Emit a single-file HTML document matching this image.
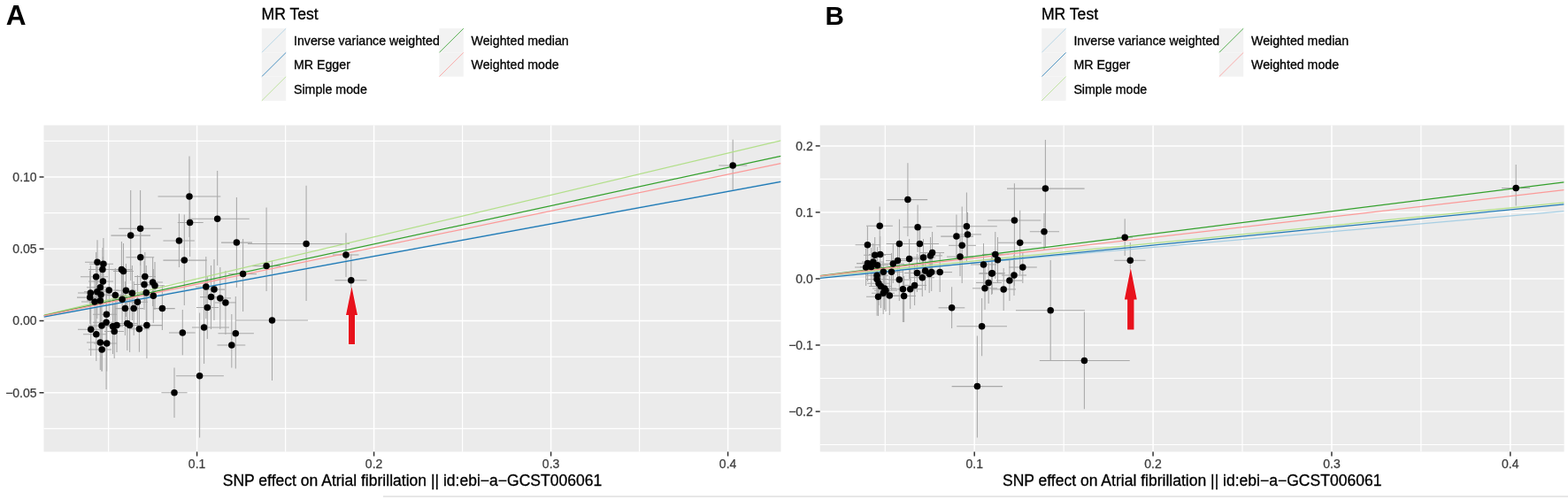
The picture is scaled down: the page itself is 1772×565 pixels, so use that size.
<!DOCTYPE html>
<html><head><meta charset="utf-8"><title>MR scatter plots</title>
<style>html,body{margin:0;padding:0;background:#fff;width:1772px;height:565px;overflow:hidden}svg{display:block}</style></head><body>
<svg width="1772" height="565" viewBox="0 0 1772 565" font-family="'Liberation Sans', Arial, sans-serif">
<defs>
<clipPath id="ca"><rect x="49.5" y="141.5" width="833.0" height="369.0"/></clipPath>
<clipPath id="cb"><rect x="926.7" y="141.5" width="840.9" height="369.0"/></clipPath>
</defs>
<rect width="1772" height="565" fill="#fff"/>
<text x="6.8" y="28.0" font-size="31.5" font-weight="bold" fill="#000">A</text>
<text x="932.6" y="27.6" font-size="29.6" font-weight="bold" fill="#000">B</text>
<text x="295.5" y="21.8" font-size="17.6" fill="#000" stroke="#000" stroke-width="0.3">MR Test</text>
<rect x="295.8" y="32.2" width="27.4" height="27.2" fill="#F2F2F2"/>
<line x1="295.8" y1="59.4" x2="323.2" y2="32.2" stroke="#a6cee3" stroke-width="1.0" stroke-opacity="0.8"/>
<text x="332.0" y="51.1" font-size="14.2" fill="#000" stroke="#000" stroke-width="0.3">Inverse variance weighted</text>
<rect x="295.8" y="59.4" width="27.4" height="27.2" fill="#F2F2F2"/>
<line x1="295.8" y1="86.6" x2="323.2" y2="59.4" stroke="#1f78b4" stroke-width="1.0" stroke-opacity="0.8"/>
<text x="332.0" y="78.3" font-size="14.2" fill="#000" stroke="#000" stroke-width="0.3">MR Egger</text>
<rect x="295.8" y="86.6" width="27.4" height="27.2" fill="#F2F2F2"/>
<line x1="295.8" y1="113.8" x2="323.2" y2="86.6" stroke="#b2df8a" stroke-width="1.0" stroke-opacity="0.8"/>
<text x="332.0" y="105.5" font-size="14.2" fill="#000" stroke="#000" stroke-width="0.3">Simple mode</text>
<rect x="496.4" y="32.2" width="27.4" height="27.2" fill="#F2F2F2"/>
<line x1="496.4" y1="59.4" x2="523.8" y2="32.2" stroke="#33a02c" stroke-width="1.0" stroke-opacity="0.8"/>
<text x="532.6" y="51.1" font-size="14.2" fill="#000" stroke="#000" stroke-width="0.3">Weighted median</text>
<rect x="496.4" y="59.4" width="27.4" height="27.2" fill="#F2F2F2"/>
<line x1="496.4" y1="86.6" x2="523.8" y2="59.4" stroke="#fb9a99" stroke-width="1.0" stroke-opacity="0.8"/>
<text x="532.6" y="78.3" font-size="14.2" fill="#000" stroke="#000" stroke-width="0.3">Weighted mode</text>
<text x="1176.9" y="21.8" font-size="17.6" fill="#000" stroke="#000" stroke-width="0.3">MR Test</text>
<rect x="1177.2" y="32.2" width="27.4" height="27.2" fill="#F2F2F2"/>
<line x1="1177.2" y1="59.4" x2="1204.6" y2="32.2" stroke="#a6cee3" stroke-width="1.0" stroke-opacity="0.8"/>
<text x="1213.4" y="51.1" font-size="14.2" fill="#000" stroke="#000" stroke-width="0.3">Inverse variance weighted</text>
<rect x="1177.2" y="59.4" width="27.4" height="27.2" fill="#F2F2F2"/>
<line x1="1177.2" y1="86.6" x2="1204.6" y2="59.4" stroke="#1f78b4" stroke-width="1.0" stroke-opacity="0.8"/>
<text x="1213.4" y="78.3" font-size="14.2" fill="#000" stroke="#000" stroke-width="0.3">MR Egger</text>
<rect x="1177.2" y="86.6" width="27.4" height="27.2" fill="#F2F2F2"/>
<line x1="1177.2" y1="113.8" x2="1204.6" y2="86.6" stroke="#b2df8a" stroke-width="1.0" stroke-opacity="0.8"/>
<text x="1213.4" y="105.5" font-size="14.2" fill="#000" stroke="#000" stroke-width="0.3">Simple mode</text>
<rect x="1377.8" y="32.2" width="27.4" height="27.2" fill="#F2F2F2"/>
<line x1="1377.8" y1="59.4" x2="1405.2" y2="32.2" stroke="#33a02c" stroke-width="1.0" stroke-opacity="0.8"/>
<text x="1414.0" y="51.1" font-size="14.2" fill="#000" stroke="#000" stroke-width="0.3">Weighted median</text>
<rect x="1377.8" y="59.4" width="27.4" height="27.2" fill="#F2F2F2"/>
<line x1="1377.8" y1="86.6" x2="1405.2" y2="59.4" stroke="#fb9a99" stroke-width="1.0" stroke-opacity="0.8"/>
<text x="1414.0" y="78.3" font-size="14.2" fill="#000" stroke="#000" stroke-width="0.3">Weighted mode</text>
<rect x="49.5" y="141.5" width="833.0" height="369.0" fill="#EBEBEB"/>
<line x1="49.5" x2="882.5" y1="159.38" y2="159.38" stroke="#fff" stroke-width="1.2"/>
<line x1="49.5" x2="882.5" y1="240.62" y2="240.62" stroke="#fff" stroke-width="1.2"/>
<line x1="49.5" x2="882.5" y1="321.88" y2="321.88" stroke="#fff" stroke-width="1.2"/>
<line x1="49.5" x2="882.5" y1="403.12" y2="403.12" stroke="#fff" stroke-width="1.2"/>
<line x1="49.5" x2="882.5" y1="484.38" y2="484.38" stroke="#fff" stroke-width="1.2"/>
<line x1="122.60" x2="122.60" y1="141.5" y2="510.5" stroke="#fff" stroke-width="1.2"/>
<line x1="322.60" x2="322.60" y1="141.5" y2="510.5" stroke="#fff" stroke-width="1.2"/>
<line x1="522.60" x2="522.60" y1="141.5" y2="510.5" stroke="#fff" stroke-width="1.2"/>
<line x1="722.60" x2="722.60" y1="141.5" y2="510.5" stroke="#fff" stroke-width="1.2"/>
<line x1="49.5" x2="882.5" y1="200.00" y2="200.00" stroke="#fff" stroke-width="1.5"/>
<line x1="49.5" x2="882.5" y1="281.25" y2="281.25" stroke="#fff" stroke-width="1.5"/>
<line x1="49.5" x2="882.5" y1="362.50" y2="362.50" stroke="#fff" stroke-width="1.5"/>
<line x1="49.5" x2="882.5" y1="443.75" y2="443.75" stroke="#fff" stroke-width="1.5"/>
<line x1="222.60" x2="222.60" y1="141.5" y2="510.5" stroke="#fff" stroke-width="1.5"/>
<line x1="422.60" x2="422.60" y1="141.5" y2="510.5" stroke="#fff" stroke-width="1.5"/>
<line x1="622.60" x2="622.60" y1="141.5" y2="510.5" stroke="#fff" stroke-width="1.5"/>
<line x1="822.60" x2="822.60" y1="141.5" y2="510.5" stroke="#fff" stroke-width="1.5"/>
<g clip-path="url(#ca)">
<g stroke="#A8A8A8" stroke-width="1.05">
<line x1="214.0" x2="214.0" y1="176.5" y2="268.0"/>
<line x1="214.6" x2="214.6" y1="215.0" y2="290.0"/>
<line x1="202.4" x2="202.4" y1="241.4" y2="302.0"/>
<line x1="208.3" x2="208.3" y1="242.5" y2="345.0"/>
<line x1="158.6" x2="158.6" y1="214.9" y2="300.0"/>
<line x1="147.7" x2="147.7" y1="214.9" y2="317.0"/>
<line x1="158.8" x2="158.8" y1="260.0" y2="322.0"/>
<line x1="110.0" x2="110.0" y1="271.2" y2="321.0"/>
<line x1="116.9" x2="116.9" y1="269.0" y2="327.0"/>
<line x1="115.9" x2="115.9" y1="280.0" y2="330.0"/>
<line x1="137.4" x2="137.4" y1="273.0" y2="340.0"/>
<line x1="139.5" x2="139.5" y1="275.0" y2="342.0"/>
<line x1="108.6" x2="108.6" y1="285.0" y2="340.0"/>
<line x1="116.4" x2="116.4" y1="290.0" y2="345.0"/>
<line x1="163.8" x2="163.8" y1="285.0" y2="340.0"/>
<line x1="172.6" x2="172.6" y1="291.0" y2="346.0"/>
<line x1="163.0" x2="163.0" y1="295.0" y2="350.0"/>
<line x1="175.0" x2="175.0" y1="296.0" y2="350.0"/>
<line x1="113.3" x2="113.3" y1="295.0" y2="355.0"/>
<line x1="123.2" x2="123.2" y1="298.0" y2="358.0"/>
<line x1="102.3" x2="102.3" y1="300.0" y2="362.0"/>
<line x1="109.8" x2="109.8" y1="300.0" y2="360.0"/>
<line x1="114.0" x2="114.0" y1="303.0" y2="363.0"/>
<line x1="101.7" x2="101.7" y1="306.0" y2="366.0"/>
<line x1="130.3" x2="130.3" y1="303.0" y2="364.0"/>
<line x1="142.4" x2="142.4" y1="298.0" y2="358.0"/>
<line x1="149.4" x2="149.4" y1="300.0" y2="362.0"/>
<line x1="165.3" x2="165.3" y1="300.0" y2="362.0"/>
<line x1="173.3" x2="173.3" y1="304.0" y2="365.0"/>
<line x1="138.1" x2="138.1" y1="308.0" y2="368.0"/>
<line x1="113.3" x2="113.3" y1="310.0" y2="370.0"/>
<line x1="107.0" x2="107.0" y1="311.0" y2="371.0"/>
<line x1="155.4" x2="155.4" y1="311.0" y2="371.0"/>
<line x1="141.4" x2="141.4" y1="318.0" y2="379.0"/>
<line x1="151.2" x2="151.2" y1="318.0" y2="379.0"/>
<line x1="183.4" x2="183.4" y1="322.0" y2="373.0"/>
<line x1="120.4" x2="120.4" y1="325.0" y2="385.0"/>
<line x1="120.1" x2="120.1" y1="330.0" y2="440.0"/>
<line x1="115.0" x2="115.0" y1="335.0" y2="419.5"/>
<line x1="127.5" x2="127.5" y1="338.0" y2="400.0"/>
<line x1="132.0" x2="132.0" y1="337.0" y2="398.0"/>
<line x1="129.2" x2="129.2" y1="344.0" y2="405.0"/>
<line x1="102.7" x2="102.7" y1="342.0" y2="402.0"/>
<line x1="108.8" x2="108.8" y1="347.0" y2="408.0"/>
<line x1="113.3" x2="113.3" y1="356.0" y2="418.0"/>
<line x1="120.7" x2="120.7" y1="357.0" y2="419.5"/>
<line x1="115.2" x2="115.2" y1="365.0" y2="419.5"/>
<line x1="143.8" x2="143.8" y1="335.0" y2="396.0"/>
<line x1="146.6" x2="146.6" y1="337.0" y2="398.0"/>
<line x1="157.4" x2="157.4" y1="345.0" y2="397.8"/>
<line x1="165.9" x2="165.9" y1="330.0" y2="404.9"/>
<line x1="267.4" x2="267.4" y1="223.0" y2="325.0"/>
<line x1="274.6" x2="274.6" y1="270.0" y2="352.0"/>
<line x1="301.1" x2="301.1" y1="234.5" y2="329.0"/>
<line x1="232.8" x2="232.8" y1="290.0" y2="360.0"/>
<line x1="242.0" x2="242.0" y1="293.0" y2="362.0"/>
<line x1="238.5" x2="238.5" y1="300.0" y2="372.0"/>
<line x1="248.8" x2="248.8" y1="302.0" y2="372.0"/>
<line x1="254.9" x2="254.9" y1="306.0" y2="378.0"/>
<line x1="234.3" x2="234.3" y1="312.0" y2="383.0"/>
<line x1="230.6" x2="230.6" y1="325.0" y2="411.0"/>
<line x1="206.3" x2="206.3" y1="350.0" y2="401.3"/>
<line x1="266.3" x2="266.3" y1="335.0" y2="416.5"/>
<line x1="261.8" x2="261.8" y1="355.0" y2="415.6"/>
<line x1="307.5" x2="307.5" y1="294.4" y2="430.0"/>
<line x1="245.7" x2="245.7" y1="193.1" y2="300.0"/>
<line x1="346.1" x2="346.1" y1="209.7" y2="340.0"/>
<line x1="391.0" x2="391.0" y1="263.3" y2="313.0"/>
<line x1="396.8" x2="396.8" y1="287.5" y2="346.0"/>
<line x1="225.6" x2="225.6" y1="353.6" y2="494.5"/>
<line x1="197.0" x2="197.0" y1="415.6" y2="472.0"/>
<line x1="828.2" x2="828.2" y1="157.8" y2="214.9"/>
<line x1="178.5" x2="249.3" y1="222.0" y2="222.0"/>
<line x1="200.8" x2="229.7" y1="251.5" y2="251.5"/>
<line x1="184.4" x2="219.9" y1="272.0" y2="272.0"/>
<line x1="184.4" x2="233.7" y1="294.1" y2="294.1"/>
<line x1="134.3" x2="182.7" y1="258.2" y2="258.2"/>
<line x1="125.4" x2="170.0" y1="266.1" y2="266.1"/>
<line x1="142.4" x2="174.2" y1="290.8" y2="290.8"/>
<line x1="96.0" x2="120.0" y1="296.2" y2="296.2"/>
<line x1="101.0" x2="128.0" y1="298.2" y2="298.2"/>
<line x1="100.0" x2="128.0" y1="304.4" y2="304.4"/>
<line x1="126.0" x2="149.0" y1="304.6" y2="304.6"/>
<line x1="128.0" x2="151.0" y1="306.5" y2="306.5"/>
<line x1="91.0" x2="122.0" y1="312.7" y2="312.7"/>
<line x1="100.0" x2="128.0" y1="318.0" y2="318.0"/>
<line x1="152.0" x2="176.0" y1="312.5" y2="312.5"/>
<line x1="161.0" x2="184.0" y1="319.0" y2="319.0"/>
<line x1="151.0" x2="175.0" y1="321.5" y2="321.5"/>
<line x1="164.0" x2="186.0" y1="322.7" y2="322.7"/>
<line x1="98.0" x2="125.0" y1="324.8" y2="324.8"/>
<line x1="108.0" x2="134.0" y1="327.9" y2="327.9"/>
<line x1="88.0" x2="113.0" y1="330.9" y2="330.9"/>
<line x1="95.0" x2="121.0" y1="329.7" y2="329.7"/>
<line x1="99.0" x2="125.0" y1="332.9" y2="332.9"/>
<line x1="87.0" x2="112.0" y1="336.1" y2="336.1"/>
<line x1="119.0" x2="141.0" y1="333.6" y2="333.6"/>
<line x1="131.0" x2="154.0" y1="328.3" y2="328.3"/>
<line x1="138.0" x2="161.0" y1="331.2" y2="331.2"/>
<line x1="154.0" x2="177.0" y1="330.8" y2="330.8"/>
<line x1="162.0" x2="185.0" y1="334.2" y2="334.2"/>
<line x1="127.0" x2="149.0" y1="338.2" y2="338.2"/>
<line x1="98.0" x2="125.0" y1="339.7" y2="339.7"/>
<line x1="92.0" x2="118.0" y1="341.0" y2="341.0"/>
<line x1="144.0" x2="167.0" y1="341.2" y2="341.2"/>
<line x1="130.0" x2="153.0" y1="348.6" y2="348.6"/>
<line x1="140.0" x2="162.0" y1="348.6" y2="348.6"/>
<line x1="173.0" x2="197.7" y1="348.6" y2="348.6"/>
<line x1="105.0" x2="132.0" y1="355.2" y2="355.2"/>
<line x1="105.0" x2="131.0" y1="364.2" y2="364.2"/>
<line x1="100.0" x2="126.0" y1="368.1" y2="368.1"/>
<line x1="116.0" x2="139.0" y1="368.8" y2="368.8"/>
<line x1="121.0" x2="143.0" y1="367.4" y2="367.4"/>
<line x1="118.0" x2="140.0" y1="374.4" y2="374.4"/>
<line x1="88.0" x2="113.0" y1="372.3" y2="372.3"/>
<line x1="94.0" x2="120.0" y1="377.7" y2="377.7"/>
<line x1="98.0" x2="125.0" y1="386.9" y2="386.9"/>
<line x1="106.0" x2="132.0" y1="387.9" y2="387.9"/>
<line x1="100.0" x2="126.0" y1="395.0" y2="395.0"/>
<line x1="132.0" x2="155.0" y1="365.4" y2="365.4"/>
<line x1="135.0" x2="158.0" y1="367.4" y2="367.4"/>
<line x1="146.0" x2="169.0" y1="371.8" y2="371.8"/>
<line x1="155.3" x2="183.6" y1="367.6" y2="367.6"/>
<line x1="250.0" x2="285.0" y1="274.1" y2="274.1"/>
<line x1="258.2" x2="290.0" y1="309.6" y2="309.6"/>
<line x1="285.0" x2="317.0" y1="300.6" y2="300.6"/>
<line x1="221.0" x2="245.0" y1="324.0" y2="324.0"/>
<line x1="230.0" x2="254.0" y1="327.1" y2="327.1"/>
<line x1="226.0" x2="251.0" y1="335.6" y2="335.6"/>
<line x1="237.0" x2="261.0" y1="336.9" y2="336.9"/>
<line x1="243.0" x2="267.0" y1="341.9" y2="341.9"/>
<line x1="222.0" x2="247.0" y1="347.4" y2="347.4"/>
<line x1="217.0" x2="259.0" y1="370.0" y2="370.0"/>
<line x1="191.0" x2="220.7" y1="376.0" y2="376.0"/>
<line x1="246.5" x2="286.9" y1="376.8" y2="376.8"/>
<line x1="245.5" x2="277.3" y1="390.0" y2="390.0"/>
<line x1="266.7" x2="348.0" y1="362.0" y2="362.0"/>
<line x1="212.7" x2="281.8" y1="247.3" y2="247.3"/>
<line x1="280.0" x2="395.0" y1="275.5" y2="275.5"/>
<line x1="376.0" x2="405.5" y1="288.0" y2="288.0"/>
<line x1="378.4" x2="414.5" y1="316.8" y2="316.8"/>
<line x1="198.9" x2="252.9" y1="424.7" y2="424.7"/>
<line x1="182.4" x2="211.6" y1="443.8" y2="443.8"/>
<line x1="812.3" x2="844.2" y1="187.0" y2="187.0"/>
</g>
<line x1="49.5" y1="357.57" x2="882.5" y2="204.95" stroke="#a6cee3" stroke-width="1.25"/>
<line x1="49.5" y1="358.06" x2="882.5" y2="205.44" stroke="#1f78b4" stroke-width="1.25"/>
<line x1="49.5" y1="356.13" x2="882.5" y2="158.84" stroke="#b2df8a" stroke-width="1.25"/>
<line x1="49.5" y1="356.68" x2="882.5" y2="176.30" stroke="#33a02c" stroke-width="1.25"/>
<line x1="49.5" y1="356.94" x2="882.5" y2="184.69" stroke="#fb9a99" stroke-width="1.25"/>
<g fill="#000">
<circle cx="214.0" cy="222.0" r="3.75"/>
<circle cx="214.6" cy="251.5" r="3.75"/>
<circle cx="202.4" cy="272.0" r="3.75"/>
<circle cx="208.3" cy="294.1" r="3.75"/>
<circle cx="158.6" cy="258.2" r="3.75"/>
<circle cx="147.7" cy="266.1" r="3.75"/>
<circle cx="158.8" cy="290.8" r="3.75"/>
<circle cx="110.0" cy="296.2" r="3.75"/>
<circle cx="116.9" cy="298.2" r="3.75"/>
<circle cx="115.9" cy="304.4" r="3.75"/>
<circle cx="137.4" cy="304.6" r="3.75"/>
<circle cx="139.5" cy="306.5" r="3.75"/>
<circle cx="108.6" cy="312.7" r="3.75"/>
<circle cx="116.4" cy="318.0" r="3.75"/>
<circle cx="163.8" cy="312.5" r="3.75"/>
<circle cx="172.6" cy="319.0" r="3.75"/>
<circle cx="163.0" cy="321.5" r="3.75"/>
<circle cx="175.0" cy="322.7" r="3.75"/>
<circle cx="113.3" cy="324.8" r="3.75"/>
<circle cx="123.2" cy="327.9" r="3.75"/>
<circle cx="102.3" cy="330.9" r="3.75"/>
<circle cx="109.8" cy="329.7" r="3.75"/>
<circle cx="114.0" cy="332.9" r="3.75"/>
<circle cx="101.7" cy="336.1" r="3.75"/>
<circle cx="130.3" cy="333.6" r="3.75"/>
<circle cx="142.4" cy="328.3" r="3.75"/>
<circle cx="149.4" cy="331.2" r="3.75"/>
<circle cx="165.3" cy="330.8" r="3.75"/>
<circle cx="173.3" cy="334.2" r="3.75"/>
<circle cx="138.1" cy="338.2" r="3.75"/>
<circle cx="113.3" cy="339.7" r="3.75"/>
<circle cx="107.0" cy="341.0" r="3.75"/>
<circle cx="155.4" cy="341.2" r="3.75"/>
<circle cx="141.4" cy="348.6" r="3.75"/>
<circle cx="151.2" cy="348.6" r="3.75"/>
<circle cx="183.4" cy="348.6" r="3.75"/>
<circle cx="120.4" cy="355.2" r="3.75"/>
<circle cx="120.1" cy="364.2" r="3.75"/>
<circle cx="115.0" cy="368.1" r="3.75"/>
<circle cx="127.5" cy="368.8" r="3.75"/>
<circle cx="132.0" cy="367.4" r="3.75"/>
<circle cx="129.2" cy="374.4" r="3.75"/>
<circle cx="102.7" cy="372.3" r="3.75"/>
<circle cx="108.8" cy="377.7" r="3.75"/>
<circle cx="113.3" cy="386.9" r="3.75"/>
<circle cx="120.7" cy="387.9" r="3.75"/>
<circle cx="115.2" cy="395.0" r="3.75"/>
<circle cx="143.8" cy="365.4" r="3.75"/>
<circle cx="146.6" cy="367.4" r="3.75"/>
<circle cx="157.4" cy="371.8" r="3.75"/>
<circle cx="165.9" cy="367.6" r="3.75"/>
<circle cx="267.4" cy="274.1" r="3.75"/>
<circle cx="274.6" cy="309.6" r="3.75"/>
<circle cx="301.1" cy="300.6" r="3.75"/>
<circle cx="232.8" cy="324.0" r="3.75"/>
<circle cx="242.0" cy="327.1" r="3.75"/>
<circle cx="238.5" cy="335.6" r="3.75"/>
<circle cx="248.8" cy="336.9" r="3.75"/>
<circle cx="254.9" cy="341.9" r="3.75"/>
<circle cx="234.3" cy="347.4" r="3.75"/>
<circle cx="230.6" cy="370.0" r="3.75"/>
<circle cx="206.3" cy="376.0" r="3.75"/>
<circle cx="266.3" cy="376.8" r="3.75"/>
<circle cx="261.8" cy="390.0" r="3.75"/>
<circle cx="307.5" cy="362.0" r="3.75"/>
<circle cx="245.7" cy="247.3" r="3.75"/>
<circle cx="346.1" cy="275.5" r="3.75"/>
<circle cx="391.0" cy="288.0" r="3.75"/>
<circle cx="396.8" cy="316.8" r="3.75"/>
<circle cx="225.6" cy="424.7" r="3.75"/>
<circle cx="197.0" cy="443.8" r="3.75"/>
<circle cx="828.2" cy="187.0" r="3.75"/>
</g>
</g>
<g stroke="#333" stroke-width="1.5">
<line x1="44.5" x2="49.5" y1="200.00" y2="200.00"/>
<line x1="44.5" x2="49.5" y1="281.25" y2="281.25"/>
<line x1="44.5" x2="49.5" y1="362.50" y2="362.50"/>
<line x1="44.5" x2="49.5" y1="443.75" y2="443.75"/>
<line x1="222.60" x2="222.60" y1="510.5" y2="515.5"/>
<line x1="422.60" x2="422.60" y1="510.5" y2="515.5"/>
<line x1="622.60" x2="622.60" y1="510.5" y2="515.5"/>
<line x1="822.60" x2="822.60" y1="510.5" y2="515.5"/>
</g>
<g fill="#3C3C3C" stroke="#3C3C3C" stroke-width="0.25" font-size="14">
<text x="41.6" y="204.90" text-anchor="end">0.10</text>
<text x="41.6" y="286.15" text-anchor="end">0.05</text>
<text x="41.6" y="367.40" text-anchor="end">0.00</text>
<text x="41.6" y="448.65" text-anchor="end">−0.05</text>
<text x="222.60" y="529.2" text-anchor="middle">0.1</text>
<text x="422.60" y="529.2" text-anchor="middle">0.2</text>
<text x="622.60" y="529.2" text-anchor="middle">0.3</text>
<text x="822.60" y="529.2" text-anchor="middle">0.4</text>
</g>
<text x="466.0" y="549.2" text-anchor="middle" font-size="17.55" fill="#000" stroke="#000" stroke-width="0.3">SNP effect on Atrial fibrillation || id:ebi−a−GCST006061</text>
<rect x="926.7" y="141.5" width="840.9" height="369.0" fill="#EBEBEB"/>
<line x1="926.7" x2="1767.6" y1="202.41" y2="202.41" stroke="#fff" stroke-width="1.2"/>
<line x1="926.7" x2="1767.6" y1="277.44" y2="277.44" stroke="#fff" stroke-width="1.2"/>
<line x1="926.7" x2="1767.6" y1="352.46" y2="352.46" stroke="#fff" stroke-width="1.2"/>
<line x1="926.7" x2="1767.6" y1="427.50" y2="427.50" stroke="#fff" stroke-width="1.2"/>
<line x1="926.7" x2="1767.6" y1="502.52" y2="502.52" stroke="#fff" stroke-width="1.2"/>
<line x1="1000.27" x2="1000.27" y1="141.5" y2="510.5" stroke="#fff" stroke-width="1.2"/>
<line x1="1202.13" x2="1202.13" y1="141.5" y2="510.5" stroke="#fff" stroke-width="1.2"/>
<line x1="1404.01" x2="1404.01" y1="141.5" y2="510.5" stroke="#fff" stroke-width="1.2"/>
<line x1="1605.88" x2="1605.88" y1="141.5" y2="510.5" stroke="#fff" stroke-width="1.2"/>
<line x1="926.7" x2="1767.6" y1="164.89" y2="164.89" stroke="#fff" stroke-width="1.5"/>
<line x1="926.7" x2="1767.6" y1="239.92" y2="239.92" stroke="#fff" stroke-width="1.5"/>
<line x1="926.7" x2="1767.6" y1="314.95" y2="314.95" stroke="#fff" stroke-width="1.5"/>
<line x1="926.7" x2="1767.6" y1="389.98" y2="389.98" stroke="#fff" stroke-width="1.5"/>
<line x1="926.7" x2="1767.6" y1="465.01" y2="465.01" stroke="#fff" stroke-width="1.5"/>
<line x1="1101.20" x2="1101.20" y1="141.5" y2="510.5" stroke="#fff" stroke-width="1.5"/>
<line x1="1303.07" x2="1303.07" y1="141.5" y2="510.5" stroke="#fff" stroke-width="1.5"/>
<line x1="1504.94" x2="1504.94" y1="141.5" y2="510.5" stroke="#fff" stroke-width="1.5"/>
<line x1="1706.81" x2="1706.81" y1="141.5" y2="510.5" stroke="#fff" stroke-width="1.5"/>
<g clip-path="url(#cb)">
<g stroke="#A8A8A8" stroke-width="1.05">
<line x1="1025.9" x2="1025.9" y1="184.2" y2="267.0"/>
<line x1="994.2" x2="994.2" y1="233.5" y2="280.0"/>
<line x1="1037.1" x2="1037.1" y1="231.4" y2="285.0"/>
<line x1="1092.4" x2="1092.4" y1="217.5" y2="295.0"/>
<line x1="1093.5" x2="1093.5" y1="240.0" y2="290.0"/>
<line x1="1080.9" x2="1080.9" y1="242.5" y2="292.0"/>
<line x1="1087.2" x2="1087.2" y1="233.5" y2="320.0"/>
<line x1="1181.4" x2="1181.4" y1="158.0" y2="280.0"/>
<line x1="1146.4" x2="1146.4" y1="207.3" y2="323.0"/>
<line x1="1180.0" x2="1180.0" y1="241.0" y2="282.0"/>
<line x1="1152.7" x2="1152.7" y1="237.8" y2="310.0"/>
<line x1="1155.8" x2="1155.8" y1="285.0" y2="320.0"/>
<line x1="980.4" x2="980.4" y1="255.7" y2="298.0"/>
<line x1="1016.4" x2="1016.4" y1="247.8" y2="303.0"/>
<line x1="1039.4" x2="1039.4" y1="255.0" y2="296.0"/>
<line x1="988.7" x2="988.7" y1="268.0" y2="310.0"/>
<line x1="994.7" x2="994.7" y1="267.0" y2="308.0"/>
<line x1="1014.5" x2="1014.5" y1="272.0" y2="316.0"/>
<line x1="1009.3" x2="1009.3" y1="276.0" y2="320.0"/>
<line x1="1027.6" x2="1027.6" y1="270.0" y2="315.0"/>
<line x1="1043.5" x2="1043.5" y1="270.0" y2="312.0"/>
<line x1="1051.5" x2="1051.5" y1="268.0" y2="310.0"/>
<line x1="1053.6" x2="1053.6" y1="262.0" y2="308.0"/>
<line x1="1085.0" x2="1085.0" y1="268.0" y2="312.0"/>
<line x1="980.5" x2="980.5" y1="277.0" y2="318.0"/>
<line x1="986.8" x2="986.8" y1="275.0" y2="317.0"/>
<line x1="991.6" x2="991.6" y1="279.0" y2="321.0"/>
<line x1="978.6" x2="978.6" y1="281.0" y2="323.0"/>
<line x1="984.6" x2="984.6" y1="280.0" y2="323.0"/>
<line x1="998.3" x2="998.3" y1="286.0" y2="328.0"/>
<line x1="1007.5" x2="1007.5" y1="286.0" y2="328.0"/>
<line x1="991.1" x2="991.1" y1="290.0" y2="340.0"/>
<line x1="991.1" x2="991.1" y1="294.0" y2="356.8"/>
<line x1="993.0" x2="993.0" y1="299.0" y2="345.0"/>
<line x1="995.4" x2="995.4" y1="302.0" y2="348.0"/>
<line x1="999.6" x2="999.6" y1="304.0" y2="350.0"/>
<line x1="1001.0" x2="1001.0" y1="306.0" y2="352.0"/>
<line x1="998.2" x2="998.2" y1="309.0" y2="355.0"/>
<line x1="992.5" x2="992.5" y1="313.0" y2="357.0"/>
<line x1="1005.3" x2="1005.3" y1="312.0" y2="356.0"/>
<line x1="1016.3" x2="1016.3" y1="294.0" y2="340.0"/>
<line x1="1036.4" x2="1036.4" y1="287.0" y2="330.0"/>
<line x1="1042.3" x2="1042.3" y1="292.0" y2="335.0"/>
<line x1="1045.7" x2="1045.7" y1="285.0" y2="328.0"/>
<line x1="1050.2" x2="1050.2" y1="288.0" y2="331.0"/>
<line x1="1052.7" x2="1052.7" y1="286.0" y2="329.0"/>
<line x1="1062.2" x2="1062.2" y1="286.0" y2="330.0"/>
<line x1="1033.6" x2="1033.6" y1="300.0" y2="345.0"/>
<line x1="1028.7" x2="1028.7" y1="304.0" y2="349.0"/>
<line x1="1020.4" x2="1020.4" y1="304.0" y2="364.0"/>
<line x1="1021.6" x2="1021.6" y1="312.0" y2="364.0"/>
<line x1="1124.8" x2="1124.8" y1="262.0" y2="315.0"/>
<line x1="1127.5" x2="1127.5" y1="268.0" y2="320.0"/>
<line x1="1111.5" x2="1111.5" y1="275.0" y2="323.0"/>
<line x1="1120.7" x2="1120.7" y1="285.0" y2="333.0"/>
<line x1="1117.2" x2="1117.2" y1="295.0" y2="343.0"/>
<line x1="1113.0" x2="1113.0" y1="302.0" y2="350.0"/>
<line x1="1134.2" x2="1134.2" y1="303.0" y2="351.0"/>
<line x1="1146.0" x2="1146.0" y1="288.0" y2="334.0"/>
<line x1="1140.9" x2="1140.9" y1="294.0" y2="340.0"/>
<line x1="1121.3" x2="1121.3" y1="285.0" y2="332.0"/>
<line x1="1075.6" x2="1075.6" y1="324.2" y2="371.0"/>
<line x1="1109.6" x2="1109.6" y1="337.0" y2="402.2"/>
<line x1="1104.4" x2="1104.4" y1="379.5" y2="494.4"/>
<line x1="1187.2" x2="1187.2" y1="294.0" y2="407.0"/>
<line x1="1225.4" x2="1225.4" y1="352.6" y2="462.3"/>
<line x1="1277.3" x2="1277.3" y1="274.0" y2="316.0"/>
<line x1="1271.2" x2="1271.2" y1="247.3" y2="288.9"/>
<line x1="1713.2" x2="1713.2" y1="186.0" y2="232.5"/>
<line x1="1002.5" x2="1048.2" y1="225.6" y2="225.6"/>
<line x1="979.0" x2="1008.9" y1="255.3" y2="255.3"/>
<line x1="1020.5" x2="1053.5" y1="256.8" y2="256.8"/>
<line x1="1058.2" x2="1126.8" y1="255.8" y2="255.8"/>
<line x1="1078.0" x2="1109.0" y1="264.9" y2="264.9"/>
<line x1="1063.2" x2="1100.0" y1="267.1" y2="267.1"/>
<line x1="1072.0" x2="1103.0" y1="277.3" y2="277.3"/>
<line x1="1138.0" x2="1225.6" y1="213.1" y2="213.1"/>
<line x1="1116.2" x2="1176.3" y1="248.9" y2="248.9"/>
<line x1="1163.8" x2="1197.0" y1="261.7" y2="261.7"/>
<line x1="1128.0" x2="1177.0" y1="274.2" y2="274.2"/>
<line x1="1140.0" x2="1171.8" y1="302.0" y2="302.0"/>
<line x1="966.6" x2="995.2" y1="276.8" y2="276.8"/>
<line x1="1001.6" x2="1031.4" y1="275.5" y2="275.5"/>
<line x1="1025.0" x2="1061.0" y1="275.4" y2="275.4"/>
<line x1="976.0" x2="1001.0" y1="288.3" y2="288.3"/>
<line x1="982.0" x2="1007.0" y1="287.4" y2="287.4"/>
<line x1="1001.0" x2="1028.0" y1="294.4" y2="294.4"/>
<line x1="996.0" x2="1022.0" y1="298.1" y2="298.1"/>
<line x1="1014.0" x2="1041.0" y1="292.6" y2="292.6"/>
<line x1="1030.0" x2="1057.0" y1="291.0" y2="291.0"/>
<line x1="1038.0" x2="1065.0" y1="288.9" y2="288.9"/>
<line x1="1040.0" x2="1067.0" y1="285.6" y2="285.6"/>
<line x1="1070.0" x2="1100.0" y1="290.1" y2="290.1"/>
<line x1="968.0" x2="993.0" y1="297.6" y2="297.6"/>
<line x1="974.0" x2="999.0" y1="296.0" y2="296.0"/>
<line x1="979.0" x2="1004.0" y1="299.8" y2="299.8"/>
<line x1="966.0" x2="991.0" y1="302.0" y2="302.0"/>
<line x1="972.0" x2="997.0" y1="301.6" y2="301.6"/>
<line x1="985.0" x2="1011.0" y1="307.2" y2="307.2"/>
<line x1="994.0" x2="1020.0" y1="307.2" y2="307.2"/>
<line x1="978.0" x2="1004.0" y1="311.2" y2="311.2"/>
<line x1="978.0" x2="1004.0" y1="315.4" y2="315.4"/>
<line x1="980.0" x2="1006.0" y1="320.3" y2="320.3"/>
<line x1="982.0" x2="1008.0" y1="323.5" y2="323.5"/>
<line x1="986.0" x2="1013.0" y1="326.0" y2="326.0"/>
<line x1="988.0" x2="1014.0" y1="328.3" y2="328.3"/>
<line x1="985.0" x2="1011.0" y1="331.3" y2="331.3"/>
<line x1="979.0" x2="1006.0" y1="335.2" y2="335.2"/>
<line x1="992.0" x2="1018.0" y1="334.0" y2="334.0"/>
<line x1="1003.0" x2="1030.0" y1="316.0" y2="316.0"/>
<line x1="1022.0" x2="1050.0" y1="308.5" y2="308.5"/>
<line x1="1028.0" x2="1056.0" y1="313.7" y2="313.7"/>
<line x1="1032.0" x2="1059.0" y1="306.1" y2="306.1"/>
<line x1="1036.0" x2="1064.0" y1="309.4" y2="309.4"/>
<line x1="1039.0" x2="1066.0" y1="307.5" y2="307.5"/>
<line x1="1048.0" x2="1076.0" y1="307.6" y2="307.6"/>
<line x1="1020.0" x2="1047.0" y1="322.4" y2="322.4"/>
<line x1="1015.0" x2="1042.0" y1="326.7" y2="326.7"/>
<line x1="1007.0" x2="1034.0" y1="326.7" y2="326.7"/>
<line x1="1008.0" x2="1035.0" y1="334.4" y2="334.4"/>
<line x1="1110.0" x2="1140.0" y1="287.4" y2="287.4"/>
<line x1="1113.0" x2="1142.0" y1="293.8" y2="293.8"/>
<line x1="1097.0" x2="1126.0" y1="298.9" y2="298.9"/>
<line x1="1106.0" x2="1135.0" y1="309.1" y2="309.1"/>
<line x1="1103.0" x2="1132.0" y1="319.4" y2="319.4"/>
<line x1="1099.0" x2="1127.0" y1="325.8" y2="325.8"/>
<line x1="1120.0" x2="1148.0" y1="326.9" y2="326.9"/>
<line x1="1132.0" x2="1160.0" y1="311.0" y2="311.0"/>
<line x1="1126.0" x2="1155.0" y1="317.0" y2="317.0"/>
<line x1="1107.0" x2="1136.0" y1="308.7" y2="308.7"/>
<line x1="1060.6" x2="1090.3" y1="347.8" y2="347.8"/>
<line x1="1081.2" x2="1138.0" y1="368.7" y2="368.7"/>
<line x1="1075.6" x2="1133.0" y1="436.6" y2="436.6"/>
<line x1="1148.0" x2="1226.0" y1="350.8" y2="350.8"/>
<line x1="1174.8" x2="1276.7" y1="407.4" y2="407.4"/>
<line x1="1259.2" x2="1294.5" y1="294.2" y2="294.2"/>
<line x1="1262.0" x2="1280.0" y1="268.2" y2="268.2"/>
<line x1="1697.0" x2="1729.0" y1="212.5" y2="212.5"/>
</g>
<line x1="926.7" y1="312.55" x2="1767.6" y2="238.69" stroke="#a6cee3" stroke-width="1.25"/>
<line x1="926.7" y1="314.33" x2="1767.6" y2="230.89" stroke="#1f78b4" stroke-width="1.25"/>
<line x1="926.7" y1="312.23" x2="1767.6" y2="228.79" stroke="#b2df8a" stroke-width="1.25"/>
<line x1="926.7" y1="311.51" x2="1767.6" y2="205.87" stroke="#33a02c" stroke-width="1.25"/>
<line x1="926.7" y1="311.79" x2="1767.6" y2="214.68" stroke="#fb9a99" stroke-width="1.25"/>
<g fill="#000">
<circle cx="1025.9" cy="225.6" r="3.75"/>
<circle cx="994.2" cy="255.3" r="3.75"/>
<circle cx="1037.1" cy="256.8" r="3.75"/>
<circle cx="1092.4" cy="255.8" r="3.75"/>
<circle cx="1093.5" cy="264.9" r="3.75"/>
<circle cx="1080.9" cy="267.1" r="3.75"/>
<circle cx="1087.2" cy="277.3" r="3.75"/>
<circle cx="1181.4" cy="213.1" r="3.75"/>
<circle cx="1146.4" cy="248.9" r="3.75"/>
<circle cx="1180.0" cy="261.7" r="3.75"/>
<circle cx="1152.7" cy="274.2" r="3.75"/>
<circle cx="1155.8" cy="302.0" r="3.75"/>
<circle cx="980.4" cy="276.8" r="3.75"/>
<circle cx="1016.4" cy="275.5" r="3.75"/>
<circle cx="1039.4" cy="275.4" r="3.75"/>
<circle cx="988.7" cy="288.3" r="3.75"/>
<circle cx="994.7" cy="287.4" r="3.75"/>
<circle cx="1014.5" cy="294.4" r="3.75"/>
<circle cx="1009.3" cy="298.1" r="3.75"/>
<circle cx="1027.6" cy="292.6" r="3.75"/>
<circle cx="1043.5" cy="291.0" r="3.75"/>
<circle cx="1051.5" cy="288.9" r="3.75"/>
<circle cx="1053.6" cy="285.6" r="3.75"/>
<circle cx="1085.0" cy="290.1" r="3.75"/>
<circle cx="980.5" cy="297.6" r="3.75"/>
<circle cx="986.8" cy="296.0" r="3.75"/>
<circle cx="991.6" cy="299.8" r="3.75"/>
<circle cx="978.6" cy="302.0" r="3.75"/>
<circle cx="984.6" cy="301.6" r="3.75"/>
<circle cx="998.3" cy="307.2" r="3.75"/>
<circle cx="1007.5" cy="307.2" r="3.75"/>
<circle cx="991.1" cy="311.2" r="3.75"/>
<circle cx="991.1" cy="315.4" r="3.75"/>
<circle cx="993.0" cy="320.3" r="3.75"/>
<circle cx="995.4" cy="323.5" r="3.75"/>
<circle cx="999.6" cy="326.0" r="3.75"/>
<circle cx="1001.0" cy="328.3" r="3.75"/>
<circle cx="998.2" cy="331.3" r="3.75"/>
<circle cx="992.5" cy="335.2" r="3.75"/>
<circle cx="1005.3" cy="334.0" r="3.75"/>
<circle cx="1016.3" cy="316.0" r="3.75"/>
<circle cx="1036.4" cy="308.5" r="3.75"/>
<circle cx="1042.3" cy="313.7" r="3.75"/>
<circle cx="1045.7" cy="306.1" r="3.75"/>
<circle cx="1050.2" cy="309.4" r="3.75"/>
<circle cx="1052.7" cy="307.5" r="3.75"/>
<circle cx="1062.2" cy="307.6" r="3.75"/>
<circle cx="1033.6" cy="322.4" r="3.75"/>
<circle cx="1028.7" cy="326.7" r="3.75"/>
<circle cx="1020.4" cy="326.7" r="3.75"/>
<circle cx="1021.6" cy="334.4" r="3.75"/>
<circle cx="1124.8" cy="287.4" r="3.75"/>
<circle cx="1127.5" cy="293.8" r="3.75"/>
<circle cx="1111.5" cy="298.9" r="3.75"/>
<circle cx="1120.7" cy="309.1" r="3.75"/>
<circle cx="1117.2" cy="319.4" r="3.75"/>
<circle cx="1113.0" cy="325.8" r="3.75"/>
<circle cx="1134.2" cy="326.9" r="3.75"/>
<circle cx="1146.0" cy="311.0" r="3.75"/>
<circle cx="1140.9" cy="317.0" r="3.75"/>
<circle cx="1121.3" cy="308.7" r="3.75"/>
<circle cx="1075.6" cy="347.8" r="3.75"/>
<circle cx="1109.6" cy="368.7" r="3.75"/>
<circle cx="1104.4" cy="436.6" r="3.75"/>
<circle cx="1187.2" cy="350.8" r="3.75"/>
<circle cx="1225.4" cy="407.4" r="3.75"/>
<circle cx="1277.3" cy="294.2" r="3.75"/>
<circle cx="1271.2" cy="268.2" r="3.75"/>
<circle cx="1713.2" cy="212.5" r="3.75"/>
</g>
</g>
<g stroke="#333" stroke-width="1.5">
<line x1="921.7" x2="926.7" y1="164.89" y2="164.89"/>
<line x1="921.7" x2="926.7" y1="239.92" y2="239.92"/>
<line x1="921.7" x2="926.7" y1="314.95" y2="314.95"/>
<line x1="921.7" x2="926.7" y1="389.98" y2="389.98"/>
<line x1="921.7" x2="926.7" y1="465.01" y2="465.01"/>
<line x1="1101.20" x2="1101.20" y1="510.5" y2="515.5"/>
<line x1="1303.07" x2="1303.07" y1="510.5" y2="515.5"/>
<line x1="1504.94" x2="1504.94" y1="510.5" y2="515.5"/>
<line x1="1706.81" x2="1706.81" y1="510.5" y2="515.5"/>
</g>
<g fill="#3C3C3C" stroke="#3C3C3C" stroke-width="0.25" font-size="14">
<text x="918.8" y="169.79" text-anchor="end">0.2</text>
<text x="918.8" y="244.82" text-anchor="end">0.1</text>
<text x="918.8" y="319.85" text-anchor="end">0.0</text>
<text x="918.8" y="394.88" text-anchor="end">−0.1</text>
<text x="918.8" y="469.91" text-anchor="end">−0.2</text>
<text x="1101.20" y="529.2" text-anchor="middle">0.1</text>
<text x="1303.07" y="529.2" text-anchor="middle">0.2</text>
<text x="1504.94" y="529.2" text-anchor="middle">0.3</text>
<text x="1706.81" y="529.2" text-anchor="middle">0.4</text>
</g>
<text x="1347.2" y="549.2" text-anchor="middle" font-size="17.55" fill="#000" stroke="#000" stroke-width="0.3">SNP effect on Atrial fibrillation || id:ebi−a−GCST006061</text>
<path d="M397.5,324.0 L404.0,356.0 L401.0,356.0 L401.0,389.0 L394.0,389.0 L394.0,356.0 L391.0,356.0 Z" fill="#E8121C" stroke="#fff" stroke-width="1.2" stroke-opacity="0.7" paint-order="stroke"/>
<path d="M1277.8,303.0 L1284.8,338.4 L1281.5,338.4 L1281.5,372.6 L1274.1,372.6 L1274.1,338.4 L1270.8,338.4 Z" fill="#E8121C" stroke="#fff" stroke-width="1.2" stroke-opacity="0.7" paint-order="stroke"/>
<line x1="433" y1="561" x2="1772" y2="561" stroke="#CFCFCF" stroke-width="1.2"/>
</svg>
</body></html>
